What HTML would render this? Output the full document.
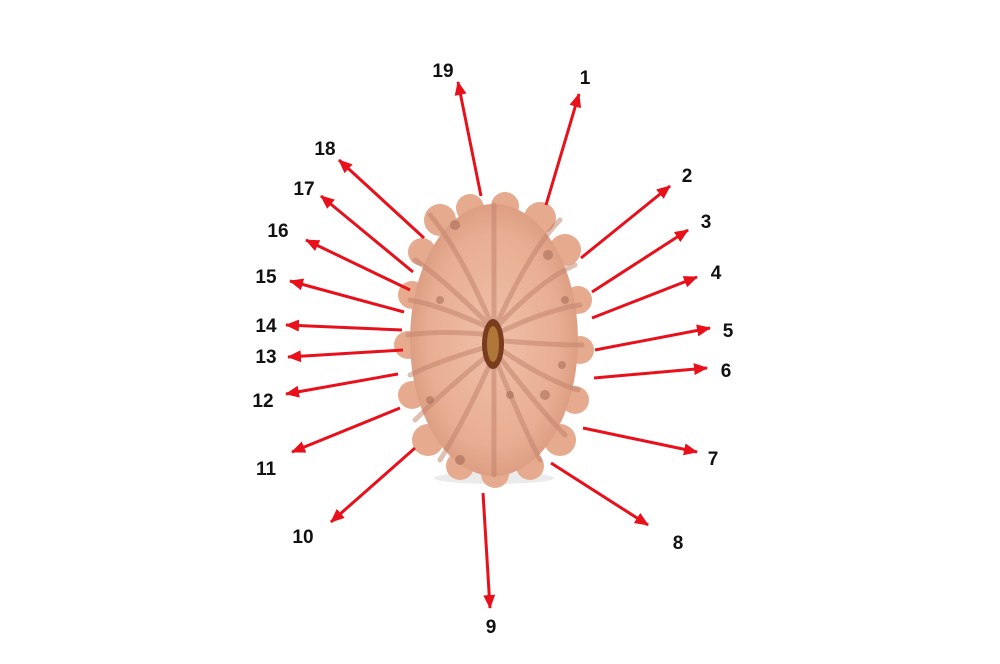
<!DOCTYPE html>
<html><head><meta charset="utf-8"><style>
html,body{margin:0;padding:0;background:#fff;}
svg{display:block}
text{font-family:"Liberation Sans",Arial,sans-serif;font-weight:bold;font-size:19px;fill:#111;text-anchor:middle}
</style></head><body>
<svg width="1000" height="664" viewBox="0 0 1000 664" xmlns="http://www.w3.org/2000/svg">
<defs>
<marker id="a" markerWidth="14" markerHeight="12" refX="13" refY="6" orient="auto" markerUnits="userSpaceOnUse">
<path d="M0,0 L14,6 L0,12 Z" fill="#e8101a"/></marker>
<radialGradient id="g" cx="50%" cy="50%" r="55%">
<stop offset="0" stop-color="#f0c0a8"/><stop offset="0.7" stop-color="#e8ae93"/><stop offset="1" stop-color="#d9987c"/></radialGradient>
</defs>
<ellipse cx="494" cy="478" rx="60" ry="6" fill="#ddd" opacity="0.6"/>
<g fill="#e6aa8e">
<circle cx="440" cy="220" r="16"/><circle cx="470" cy="208" r="14"/><circle cx="505" cy="206" r="14"/><circle cx="540" cy="218" r="16"/>
<circle cx="565" cy="250" r="16"/><circle cx="578" cy="300" r="14"/><circle cx="580" cy="350" r="14"/><circle cx="575" cy="400" r="14"/>
<circle cx="560" cy="440" r="16"/><circle cx="530" cy="466" r="14"/><circle cx="495" cy="474" r="14"/><circle cx="460" cy="466" r="14"/>
<circle cx="428" cy="440" r="16"/><circle cx="412" cy="395" r="14"/><circle cx="408" cy="345" r="14"/><circle cx="412" cy="295" r="14"/><circle cx="422" cy="252" r="14"/>
</g>
<ellipse cx="494" cy="340" rx="84" ry="136" fill="url(#g)"/>
<g stroke="#c0826a" stroke-width="5" fill="none" opacity="0.5" stroke-linecap="round">
<path d="M494,330 Q460,250 430,215"/><path d="M494,330 Q445,280 415,260"/><path d="M494,330 Q440,305 410,300"/>
<path d="M494,335 Q440,330 408,335"/><path d="M494,345 Q440,360 410,375"/><path d="M494,350 Q445,390 415,420"/>
<path d="M494,355 Q465,420 440,460"/><path d="M494,330 Q530,250 560,220"/><path d="M494,330 Q540,280 575,265"/>
<path d="M494,335 Q545,310 580,305"/><path d="M494,340 Q545,345 582,345"/><path d="M494,345 Q545,380 578,390"/>
<path d="M494,350 Q540,410 565,435"/><path d="M494,355 Q520,420 540,460"/><path d="M494,330 L494,205"/><path d="M494,355 L494,475"/>
</g>
<g fill="#9d6650" opacity="0.5">
<circle cx="455" cy="225" r="5"/><circle cx="548" cy="255" r="5"/><circle cx="565" cy="300" r="4"/><circle cx="562" cy="365" r="4"/>
<circle cx="545" cy="395" r="5"/><circle cx="430" cy="400" r="4"/><circle cx="460" cy="460" r="5"/><circle cx="510" cy="395" r="4"/>
<circle cx="440" cy="300" r="4"/>
</g>
<ellipse cx="493" cy="344" rx="11" ry="25" fill="#7a3c1e"/>
<ellipse cx="493" cy="344" rx="6" ry="18" fill="#b07838"/>
<g stroke="#e8101a" stroke-width="3" marker-end="url(#a)">
<line x1="546" y1="205" x2="579" y2="94"/>
<line x1="581" y1="258" x2="670" y2="186"/>
<line x1="592" y1="292" x2="688" y2="230"/>
<line x1="592" y1="318" x2="697" y2="277"/>
<line x1="595" y1="350" x2="710" y2="328"/>
<line x1="594" y1="378" x2="707" y2="368"/>
<line x1="583" y1="428" x2="697" y2="452"/>
<line x1="551" y1="463" x2="648" y2="525"/>
<line x1="483" y1="493" x2="490" y2="608"/>
<line x1="415" y1="448" x2="331" y2="522"/>
<line x1="400" y1="408" x2="292" y2="452"/>
<line x1="398" y1="374" x2="286" y2="394"/>
<line x1="403" y1="350" x2="288" y2="357"/>
<line x1="402" y1="330" x2="286" y2="325"/>
<line x1="404" y1="312" x2="290" y2="281"/>
<line x1="410" y1="290" x2="306" y2="240"/>
<line x1="413" y1="272" x2="321" y2="196"/>
<line x1="424" y1="238" x2="339" y2="160"/>
<line x1="481" y1="196" x2="458" y2="82"/>
</g>
<text x="585" y="84">1</text>
<text x="687" y="182">2</text>
<text x="706" y="228">3</text>
<text x="716" y="279">4</text>
<text x="728" y="337">5</text>
<text x="726" y="377">6</text>
<text x="713" y="465">7</text>
<text x="678" y="549">8</text>
<text x="491" y="633">9</text>
<text x="303" y="543">10</text>
<text x="266" y="475">11</text>
<text x="263" y="407">12</text>
<text x="266" y="363">13</text>
<text x="266" y="332">14</text>
<text x="266" y="283">15</text>
<text x="278" y="237">16</text>
<text x="304" y="195">17</text>
<text x="325" y="155">18</text>
<text x="443" y="77">19</text>
</svg>
</body></html>
